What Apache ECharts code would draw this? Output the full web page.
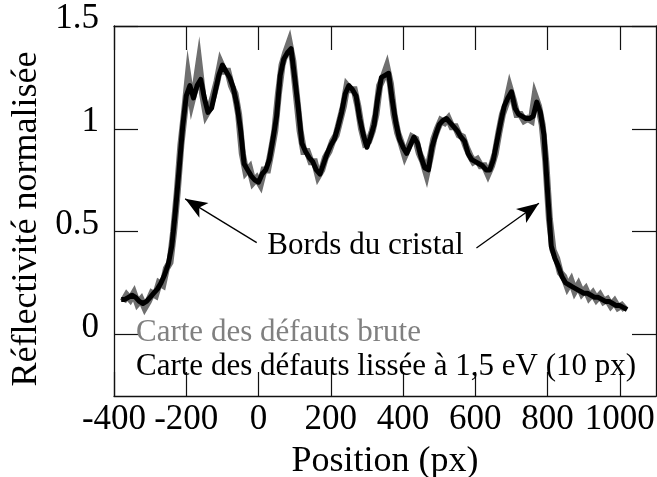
<!DOCTYPE html>
<html>
<head>
<meta charset="utf-8">
<script src="https://cdn.jsdelivr.net/npm/echarts@6/dist/echarts.min.js"></script>
<style>
html, body { margin: 0; padding: 0; background: #fff; }
#chart { width: 657px; height: 477px; }
</style>
</head>
<body>
<div id="chart"></div>
<script>
// Axis ticks
const xTicks = [-400, -200, 0, 200, 400, 600, 800, 1000];
const yTicks = [0, 0.5, 1, 1.5];

// Sampling grids (px) of the two profiles
const rawStart = -375;
const smoothStart = -380;
const sampleStep = 10;

// Raw defect map profile (normalised reflectivity)
const rawValues = [
  0.16, 0.19, 0.17, 0.20, 0.15, 0.17, 0.13, 0.16, 0.20, 0.19,
  0.25, 0.24, 0.32, 0.35, 0.50, 0.69, 0.92, 1.08, 1.25, 1.13,
  1.20, 1.32, 1.17, 1.07, 1.10, 1.16, 1.23, 1.32, 1.28, 1.28,
  1.21, 1.17, 1.07, 0.88, 0.79, 0.81, 0.74, 0.76, 0.73, 0.80,
  0.80, 0.89, 0.99, 1.17, 1.31, 1.37, 1.42, 1.33, 1.16, 0.99,
  0.89, 0.89, 0.84, 0.84, 0.77, 0.80, 0.86, 0.89, 0.94, 0.97,
  1.04, 1.11, 1.21, 1.19, 1.19, 1.11, 1.00, 0.93, 0.94, 0.99,
  1.07, 1.21, 1.25, 1.30, 1.22, 1.07, 0.98, 0.93, 0.87, 0.91,
  0.96, 0.95, 0.88, 0.84, 0.78, 0.86, 0.95, 1.00, 1.04, 1.03,
  1.05, 1.01, 1.01, 0.97, 0.96, 0.91, 0.87, 0.84, 0.85, 0.82,
  0.82, 0.78, 0.82, 0.88, 0.98, 1.07, 1.12, 1.20, 1.14, 1.07,
  1.07, 1.04, 1.05, 1.04, 1.16, 1.11, 1.02, 0.84, 0.56, 0.41,
  0.37, 0.30, 0.28, 0.23, 0.26, 0.21, 0.24, 0.20, 0.22, 0.18,
  0.20, 0.17, 0.19, 0.16, 0.17, 0.14, 0.16, 0.13, 0.14, 0.12
];

// Same profile smoothed at 1.5 eV (10 px)
const smoothValues = [
  0.17, 0.17, 0.18, 0.19, 0.18, 0.16, 0.15, 0.16, 0.18, 0.20,
  0.22, 0.25, 0.29, 0.34, 0.43, 0.60, 0.80, 1.01, 1.16, 1.21,
  1.15, 1.21, 1.24, 1.15, 1.08, 1.10, 1.18, 1.26, 1.31, 1.28,
  1.25, 1.20, 1.12, 1.00, 0.83, 0.80, 0.77, 0.75, 0.74, 0.78,
  0.80, 0.85, 0.95, 1.06, 1.26, 1.34, 1.37, 1.39, 1.25, 1.10,
  0.93, 0.89, 0.86, 0.84, 0.80, 0.78, 0.83, 0.88, 0.92, 0.95,
  1.01, 1.08, 1.17, 1.21, 1.19, 1.16, 1.05, 0.97, 0.91, 0.96,
  1.02, 1.15, 1.25, 1.26, 1.27, 1.14, 1.03, 0.95, 0.91, 0.88,
  0.92, 0.96, 0.93, 0.86, 0.81, 0.80, 0.91, 0.97, 1.02, 1.04,
  1.05, 1.03, 1.01, 0.99, 0.96, 0.94, 0.88, 0.85, 0.84, 0.83,
  0.82, 0.80, 0.80, 0.85, 0.94, 1.03, 1.11, 1.15, 1.18, 1.10,
  1.07, 1.06, 1.05, 1.05, 1.06, 1.13, 1.08, 0.97, 0.69, 0.43,
  0.37, 0.33, 0.28, 0.25, 0.24, 0.23, 0.22, 0.21, 0.20, 0.20,
  0.19, 0.18, 0.18, 0.17, 0.16, 0.16, 0.15, 0.14, 0.14, 0.13,
  0.12
];

// Crystal edge annotation: text anchor and arrows (tail -> head), data coords
const edgeLabel = 'Bords du cristal';
const edgeLabelAt = [296, 0.428];
const edgeArrows = [
  [[-5, 0.446], [-203, 0.659]],
  [[603, 0.42], [776, 0.638]]
];

const rawName = 'Carte des défauts brute';
const smoothName = 'Carte des défauts lissée à 1,5 eV (10 px)';

const toPairs = (start, values) => values.map((v, i) => [start + i * sampleStep, v]);

const FONT = '"Liberation Serif", "Times New Roman", serif';
const frame = { show: true, onZero: false, lineStyle: { color: '#111', width: 1.3 } };
const innerTick = { show: true, inside: true, length: 24, lineStyle: { color: '#111', width: 1.2 } };
const plain = v => String(v);

const chart = echarts.init(document.getElementById('chart'), null, { renderer: 'canvas' });

chart.setOption({
  animation: false,
  backgroundColor: '#fff',
  grid: { left: 114, right: 1, top: 26, bottom: 81, containLabel: false, outerBoundsMode: 'none' },
  xAxis: [
    {
      type: 'value', min: -400, max: 1100, position: 'bottom',
      axisLine: frame,
      axisTick: Object.assign({ customValues: xTicks }, innerTick),
      axisLabel: {
        customValues: xTicks, formatter: plain,
        fontFamily: FONT, fontSize: 35, color: '#000', margin: 6
      },
      splitLine: { show: false },
      name: 'Position (px)', nameLocation: 'middle', nameGap: 48,
      nameTextStyle: { fontFamily: FONT, fontSize: 36, color: '#000' }
    },
    {
      type: 'value', min: -400, max: 1100, position: 'top',
      axisLine: frame,
      axisTick: Object.assign({ customValues: xTicks }, innerTick),
      axisLabel: { show: false },
      splitLine: { show: false }
    }
  ],
  yAxis: [
    {
      type: 'value', min: -0.3, max: 1.5, position: 'left',
      axisLine: frame,
      axisTick: Object.assign({ customValues: yTicks }, innerTick),
      axisLabel: {
        customValues: yTicks, formatter: plain,
        fontFamily: FONT, fontSize: 35, color: '#000', margin: 15,
        verticalAlign: 'bottom', lineHeight: 14
      },
      splitLine: { show: false },
      name: 'Réflectivité normalisée', nameLocation: 'middle', nameGap: 63,
      nameTextStyle: { fontFamily: FONT, fontSize: 36, color: '#000', padding: [0, 16, 0, 0] }
    },
    {
      type: 'value', min: -0.3, max: 1.5, position: 'right',
      axisLine: frame,
      axisTick: Object.assign({ customValues: yTicks }, innerTick),
      axisLabel: { show: false },
      splitLine: { show: false }
    }
  ],
  legend: {
    orient: 'vertical', left: 126, top: 312,
    icon: 'rect', itemWidth: 0, itemHeight: 0, itemGap: 3,
    selectedMode: false,
    textStyle: { fontFamily: FONT, fontSize: 31 },
    data: [
      { name: rawName, textStyle: { color: '#808080' } },
      { name: smoothName, textStyle: { color: '#000' } }
    ]
  },
  series: [
    {
      name: rawName, type: 'line', showSymbol: false, symbol: 'none',
      data: toPairs(rawStart, rawValues),
      itemStyle: { color: '#6f6f6f' },
      lineStyle: { color: '#6f6f6f', width: 7, join: 'miter' },
      z: 2
    },
    {
      name: smoothName, type: 'line', showSymbol: false, symbol: 'none',
      data: toPairs(smoothStart, smoothValues),
      itemStyle: { color: '#000' },
      lineStyle: { color: '#000', width: 5, join: 'round' },
      z: 3,
      markLine: {
        silent: true, animation: false,
        symbol: ['none', 'arrow'], symbolSize: [13, 22],
        lineStyle: { color: '#000', width: 1.3, type: 'solid' },
        label: { show: false },
        data: edgeArrows.map(([a, b]) => [{ coord: a }, { coord: b }])
      },
      markPoint: {
        silent: true, animation: false,
        symbol: 'rect', symbolSize: 0,
        label: {
          show: true, position: 'inside', formatter: edgeLabel,
          fontFamily: FONT, fontSize: 31, color: '#000'
        },
        data: [{ coord: edgeLabelAt }]
      }
    }
  ]
});
</script>
</body>
</html>
